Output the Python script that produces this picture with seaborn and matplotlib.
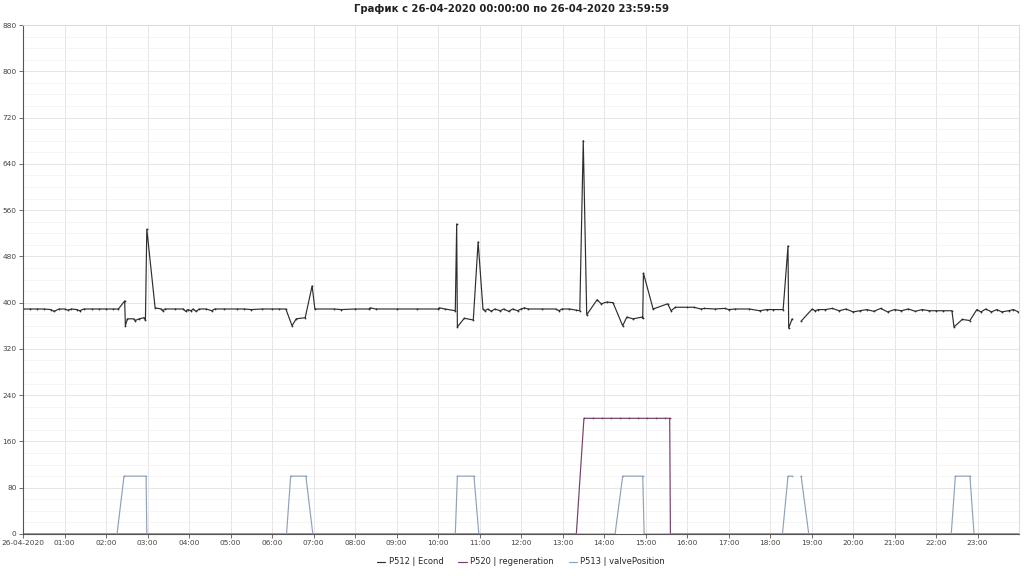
import numpy as np
import pandas as pd
import matplotlib
matplotlib.use("Agg")
import matplotlib.pyplot as plt
import matplotlib.dates as mdates
from matplotlib.ticker import MultipleLocator
import seaborn as sns

DAY = "2020-04-26 "

econd_t = ["00:00","00:10","00:20","00:30","00:40","00:45","00:52","01:00","01:05","01:10","01:18","01:22",
           "01:28","01:40","01:50","02:00","02:10","02:18","02:27","02:28","02:31","02:40","02:42","02:48",
           "02:55","02:57","02:59","03:11","03:20","03:22","03:25","03:40","03:52","03:55","03:58","04:03",
           "04:06","04:10","04:15","04:25","04:33","04:37","04:50","05:10","05:20","05:30","05:45","06:00",
           "06:10","06:20","06:29","06:35","06:48","06:58","07:02","07:30","07:40","08:00","08:20","08:22",
           "08:30","09:00","09:30","10:00","10:02","10:10","10:25","10:27","10:28","10:38","10:51","10:58",
           "11:05","11:08","11:12","11:17","11:22","11:30","11:35","11:42","11:48","11:55","12:00","12:05",
           "12:10","12:30","12:50","12:55","12:59","13:10","13:20","13:25","13:30","13:35","13:50","13:56",
           "14:04","14:13","14:27","14:33","14:42","14:55","14:56","14:57","15:11","15:32","15:37","15:43",
           "16:00","16:10","16:20","16:25","16:40","16:55","17:00","17:10","17:30","17:45","17:55","18:05",
           "18:19","18:26","18:27","18:32","18:38","18:45","19:01","19:05","19:10","19:20","19:30","19:40",
           "19:50","20:00","20:10","20:20","20:30","20:40","20:50","21:00","21:10","21:20","21:30","21:40",
           "21:50","22:00","22:10","22:23","22:26","22:38","22:49","22:59","23:05","23:12","23:20","23:28",
           "23:35","23:45","23:52","23:59"]
econd_v = [389,389,389,389,388,385,389,389,387,389,388,386,
           389,389,389,389,389,389,403,360,372,372,369,372,
           374,370,527,391,389,386,389,389,389,385,388,386,
           389,385,389,389,386,389,389,389,389,388,389,389,
           389,389,360,372,374,429,389,389,388,389,389,391,
           389,389,389,389,391,389,386,536,358,373,370,505,
           389,386,389,385,389,386,389,385,389,386,389,391,
           389,389,389,386,389,389,387,386,680,379,405,398,
           401,400,360,375,372,375,373,451,389,398,386,392,
           392,392,389,390,389,390,388,389,389,386,388,388,
           388,498,356,372,np.nan,368,389,386,388,388,390,386,
           389,384,386,388,385,390,384,388,386,389,385,388,
           386,386,386,386,358,371,369,388,384,389,384,388,
           384,386,388,384]

regen_t = ["00:00","13:20","13:31","13:44","13:57","14:10","14:23","14:36","14:49","15:02","15:15",
           "15:28","15:35","15:36","23:59"]
regen_v = [0,0,200,200,200,200,200,200,200,200,200,200,200,0,0]

valve_t = ["00:00","02:16","02:26","02:58","02:59","06:21","06:27","06:49","06:59","10:25","10:28",
           "10:52","10:59","14:16","14:27","14:56","14:58","18:18","18:26","18:32","18:38","18:45",
           "18:56","22:22","22:28","22:49","22:55","23:59"]
valve_v = [0,0,100,100,0,0,100,100,0,0,100,100,0,0,100,100,0,0,100,100,np.nan,100,0,0,100,100,0,0]

names = ["P512 | Econd", "P520 | regeneration", "P513 | valvePosition"]
colors = ["#2e2e2e", "#74406a", "#8ea2b8"]

frames = []
for name, ts, vs in zip(names, [econd_t, regen_t, valve_t], [econd_v, regen_v, valve_v]):
    d = pd.DataFrame({"time": pd.to_datetime([DAY + t for t in ts]), "value": vs})
    d["seg"] = d["value"].isna().cumsum()
    d["series"] = name
    frames.append(d.dropna())
df = pd.concat(frames, ignore_index=True)

sns.set_theme(style="white")
plt.rcParams['font.family'] = ['DejaVu Sans']

fig = plt.figure(figsize=(10.24, 5.76), dpi=100)
ax = fig.add_axes([23/1024, 1-534/576, (1019-23)/1024, (534-25)/576])

sns.lineplot(data=df, x="time", y="value", hue="series", units="seg", estimator=None,
             hue_order=names, palette=colors, linewidth=0.85, marker="o", markersize=1.3,
             markeredgewidth=0, sort=False, ax=ax)

ax.set_xlim(pd.Timestamp(DAY + "00:00:00"), pd.Timestamp(DAY + "23:59:59"))
ax.set_ylim(0, 880)
ax.yaxis.set_major_locator(MultipleLocator(80))
ax.yaxis.set_minor_locator(MultipleLocator(20))
ax.xaxis.set_major_locator(mdates.HourLocator())

def fmt(x, pos=None):
    d = mdates.num2date(x)
    if d.hour == 0 and d.minute == 0:
        return "26-04-2020"
    return d.strftime("%H:%M")
ax.xaxis.set_major_formatter(plt.FuncFormatter(fmt))

ax.grid(which="major", color="#e6e6e6", linewidth=0.7)
ax.grid(which="minor", axis="y", color="#f2f2f2", linewidth=0.5)
ax.set_axisbelow(True)
ax.tick_params(axis="both", which="major", labelsize=5.3, labelcolor="#444444", length=3,
               width=0.6, color="#555555", bottom=True, left=True, pad=1.5)
ax.tick_params(which="minor", length=0)
for s in ["left", "bottom"]:
    ax.spines[s].set_color("#555555")
    ax.spines[s].set_linewidth(0.8)
for s in ["top", "right"]:
    ax.spines[s].set_color("#dddddd")
    ax.spines[s].set_linewidth(0.8)
ax.set_xlabel("")
ax.set_ylabel("")

fig.suptitle("График с 26-04-2020 00:00:00 по 26-04-2020 23:59:59", fontsize=7.3,
             fontweight="bold", y=1-9/576, va="center", color="#222222")

handles, labels = ax.get_legend_handles_labels()
for h in handles:
    h.set_marker("")
ax.legend(handles, labels, loc="center", bbox_to_anchor=(0.5, -0.055), ncol=3, frameon=False,
          fontsize=6, handlelength=1.0, handletextpad=0.4, columnspacing=1.8)

fig.savefig("out.png", dpi=100, facecolor="white")
